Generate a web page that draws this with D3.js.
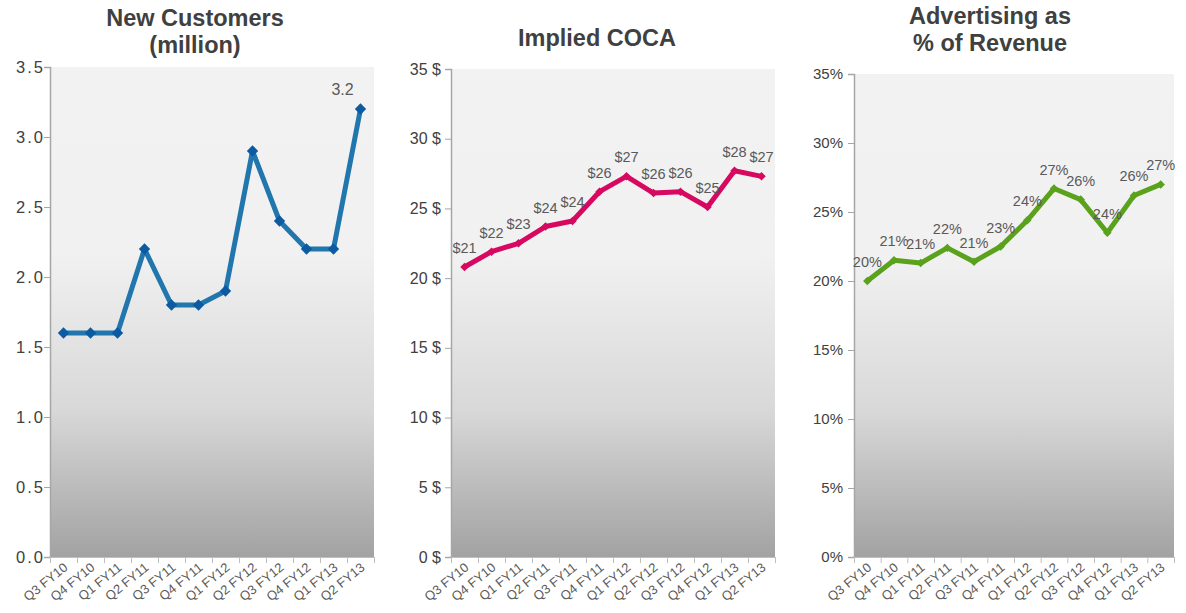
<!DOCTYPE html>
<head>
  <meta charset="utf-8">
  <script src="https://d3js.org/d3.v7.min.js"></script>
  <style>
    body { margin:0; background:#fff; }
    text { font-family: "Liberation Sans", Arial, sans-serif; }
  </style>
</head>
<body>
<script>

  // quarters on the x axis
  var quarters = ["Q3 FY10", "Q4 FY10", "Q1 FY11", "Q2 FY11", "Q3 FY11", "Q4 FY11",
                  "Q1 FY12", "Q2 FY12", "Q3 FY12", "Q4 FY12", "Q1 FY13", "Q2 FY13"];

  // series
  var newCustomers = [1.6, 1.6, 1.6, 2.2, 1.8, 1.8, 1.9, 2.9, 2.4, 2.2, 2.2, 3.2];
  var coca = [20.8, 21.9, 22.5, 23.7, 24.1, 26.2, 27.3, 26.1, 26.2, 25.1, 27.7, 27.3];
  var cocaLabels = ["$21", "$22", "$23", "$24", "$24", "$26", "$27", "$26", "$26", "$25", "$28", "$27"];
  var adPct = [20.0, 21.5, 21.3, 22.4, 21.4, 22.5, 24.4, 26.7, 25.9, 23.5, 26.2, 27.0];
  var adLabels = ["20%", "21%", "21%", "22%", "21%", "23%", "24%", "27%", "26%", "24%", "26%", "27%"];

  var svg = d3.select("body").append("svg")
    .attr("width", 1186)
    .attr("height", 613);

  // background gradient for plot areas
  var grad = svg.append("defs").append("linearGradient")
    .attr("id", "bg")
    .attr("x1", 0).attr("y1", 0).attr("x2", 0).attr("y2", 1);
  grad.append("stop").attr("offset", "0").attr("stop-color", "#f2f2f2");
  grad.append("stop").attr("offset", "0.38").attr("stop-color", "#f1f1f1");
  grad.append("stop").attr("offset", "0.7").attr("stop-color", "#d8d8d8");
  grad.append("stop").attr("offset", "1").attr("stop-color", "#a2a2a2");

  function drawChart(opt) {
    var g = svg.append("g");

    var x = d3.scaleBand().domain(quarters).range([opt.left, opt.right]);
    var xb = d3.scaleLinear().domain([0, quarters.length]).range([opt.left, opt.right]);
    var y = d3.scaleLinear().domain([0, opt.max]).range([opt.bottom, opt.top]);

    g.append("rect")
      .attr("x", opt.left)
      .attr("y", opt.top)
      .attr("width", opt.right - opt.left)
      .attr("height", opt.bottom - opt.top)
      .attr("fill", "url(#bg)");

    // title
    opt.title.forEach(function(t, i) {
      g.append("text")
        .attr("x", opt.titleX)
        .attr("y", opt.titleY + i * 27)
        .attr("text-anchor", "middle")
        .style("font-size", "23.5px")
        .style("font-weight", "bold")
        .style("fill", "#404040")
        .text(t);
    });

    // y axis
    var ya = g.append("g")
      .attr("transform", "translate(" + opt.left + ",0)")
      .call(d3.axisLeft(y).tickValues(d3.range(0, opt.max + 0.001, opt.step))
        .tickFormat(opt.fmt).tickSize(6).tickPadding(opt.tickPad));
    ya.select(".domain").attr("stroke", "#a6a6a6").attr("stroke-width", 1.5);
    ya.selectAll(".tick line").attr("stroke", "#a6a6a6");
    ya.selectAll("text").style("font-size", opt.tickFont).style("fill", "#404040")
      .style("letter-spacing", opt.tickSpacing)
      .style("font-family", "'Liberation Sans', Arial, sans-serif");

    // x axis: ticks at band edges
    var xa = g.append("g")
      .attr("transform", "translate(0," + opt.bottom + ")")
      .call(d3.axisBottom(xb).tickValues(d3.range(0, quarters.length + 1))
        .tickFormat("").tickSize(6).tickSizeOuter(0));
    xa.select(".domain").attr("stroke", "#bfbfbf");
    xa.selectAll(".tick line").attr("stroke", "#bfbfbf");

    // x labels
    var xl = g.append("g")
      .attr("transform", "translate(0," + opt.bottom + ")")
      .call(d3.axisBottom(x).tickSize(0).tickPadding(0));
    xl.select(".domain").remove();
    xl.selectAll("text")
      .attr("dy", 0)
      .attr("transform", "translate(5,12) rotate(-39)")
      .style("text-anchor", "end")
      .style("font-size", "13px")
      .style("fill", "#595959")
      .style("font-family", "'Liberation Sans', Arial, sans-serif");

    var line = d3.line()
      .x(function(d, i) { return x(quarters[i]) + x.bandwidth() / 2; })
      .y(function(d) { return y(d); });

    g.append("path")
      .datum(opt.values)
      .attr("d", line)
      .attr("fill", "none")
      .attr("stroke", opt.color)
      .attr("stroke-width", 5)
      .attr("stroke-linejoin", "round");

    // diamond markers (square turned 45 degrees)
    g.selectAll(".mark").data(opt.values).enter()
      .append("path")
      .attr("class", "mark")
      .attr("transform", function(d, i) {
        return "translate(" + (x(quarters[i]) + x.bandwidth() / 2) + "," + y(d) + ") rotate(45)";
      })
      .attr("d", d3.symbol().type(d3.symbolSquare).size(opt.markSize))
      .attr("fill", opt.markColor);

    // data labels
    g.selectAll(".lbl").data(opt.values).enter()
      .append("text")
      .attr("class", "lbl")
      .attr("x", function(d, i) { return x(quarters[i]) + x.bandwidth() / 2 + opt.labelDx; })
      .attr("y", function(d) { return y(d) - 14; })
      .attr("text-anchor", "middle")
      .style("font-size", opt.labelFont)
      .style("fill", "#595959")
      .text(function(d, i) { return opt.labels[i]; });
  }

  drawChart({
    left: 50, right: 374, top: 67, bottom: 557,
    max: 3.5, step: 0.5, fmt: d3.format(".1f"),
    tickFont: "16.5px", tickSpacing: "2px", tickPad: -1,
    title: ["New Customers", "(million)"], titleX: 195, titleY: 26,
    values: newCustomers,
    labels: newCustomers.map(function(d, i) { return i === newCustomers.length - 1 ? "3.2" : ""; }),
    labelDx: -18, labelFont: "16px",
    color: "#2176ad", markColor: "#0b5aa2", markSize: 64
  });

  drawChart({
    left: 451, right: 775, top: 69, bottom: 557,
    max: 35, step: 5, fmt: function(d) { return d + " $"; },
    tickFont: "16px", tickSpacing: "0px", tickPad: 4,
    title: ["Implied COCA"], titleX: 597, titleY: 46,
    values: coca, labels: cocaLabels, labelDx: 0, labelFont: "14.5px",
    color: "#d6085f", markColor: "#d6085f", markSize: 36
  });

  drawChart({
    left: 854, right: 1174, top: 74, bottom: 557,
    max: 35, step: 5, fmt: function(d) { return d + "%"; },
    tickFont: "15px", tickSpacing: "0px", tickPad: 5,
    title: ["Advertising as", "% of Revenue"], titleX: 990, titleY: 24,
    values: adPct, labels: adLabels, labelDx: 0, labelFont: "14.5px",
    color: "#5aa21c", markColor: "#5aa21c", markSize: 36
  });

</script>
</body>
